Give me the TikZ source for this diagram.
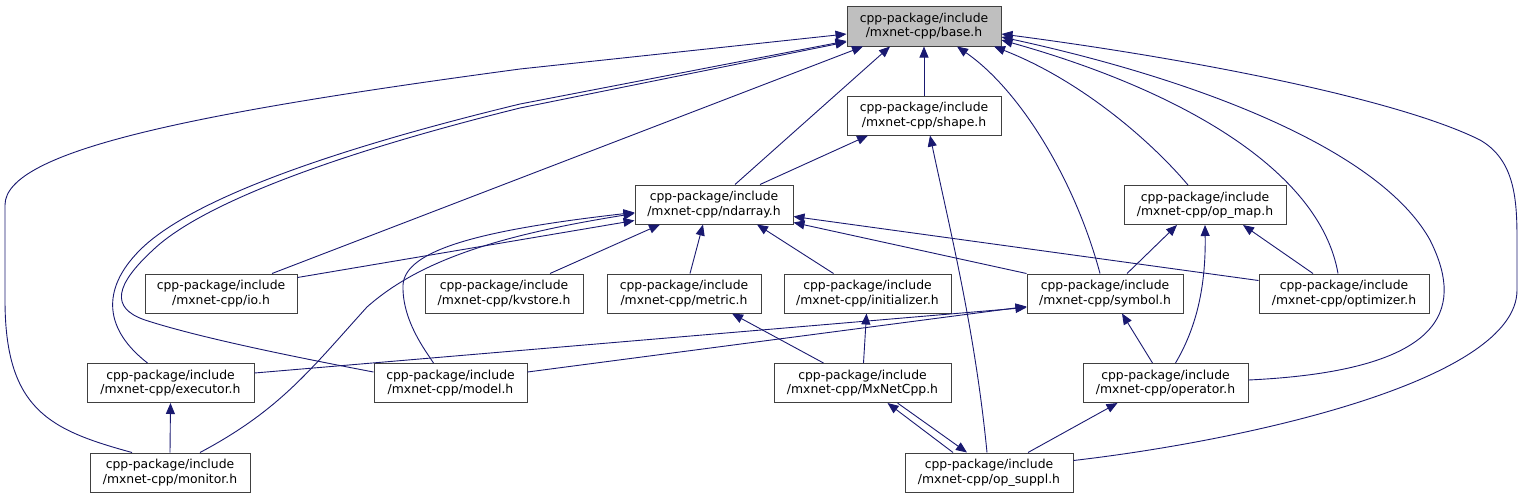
\documentclass[tikz,border=0pt]{standalone}
\usepackage{fontspec}
\setmainfont{DejaVu Sans}
\usetikzlibrary{arrows.meta}
\definecolor{edgeblue}{HTML}{191970}
\definecolor{basefill}{HTML}{BFBFBF}
\tikzset{
  filebox/.style={draw=black!75, line width=1pt, minimum height=39pt, inner sep=0pt,
    align=center, font=\fontsize{12.4}{14.5}\selectfont},
  dep/.style={draw=edgeblue, line width=0.9pt, -{Triangle[length=11pt,width=9pt]}},
}
\begin{document}
\begin{tikzpicture}[x=1pt,y=-1pt]
\useasboundingbox (0,0) rectangle (1523,499);
% nodes
\node[filebox, fill=basefill, minimum width=154pt, minimum height=40pt] (base) at (924,26) {cpp-package/include\\/mxnet-cpp/base.h};
\node[filebox, minimum width=154pt] (shape) at (924,115.5) {cpp-package/include\\/mxnet-cpp/shape.h};
\node[filebox, minimum width=158pt] (ndarray) at (714,204.5) {cpp-package/include\\/mxnet-cpp/ndarray.h};
\node[filebox, minimum width=162pt] (opmap) at (1205,205) {cpp-package/include\\/mxnet-cpp/op\_map.h};
\node[filebox, minimum width=152pt] (io) at (221,293.5) {cpp-package/include\\/mxnet-cpp/io.h};
\node[filebox, minimum width=158pt] (kvstore) at (504,293.5) {cpp-package/include\\/mxnet-cpp/kvstore.h};
\node[filebox, minimum width=154pt] (metric) at (684,293.5) {cpp-package/include\\/mxnet-cpp/metric.h};
\node[filebox, minimum width=167pt] (initializer) at (867.5,293.5) {cpp-package/include\\/mxnet-cpp/initializer.h};
\node[filebox, minimum width=156pt] (symbol) at (1105,293.5) {cpp-package/include\\/mxnet-cpp/symbol.h};
\node[filebox, minimum width=170pt] (optimizer) at (1344,293.5) {cpp-package/include\\/mxnet-cpp/optimizer.h};
\node[filebox, minimum width=167pt] (executor) at (170.5,383) {cpp-package/include\\/mxnet-cpp/executor.h};
\node[filebox, minimum width=153pt] (model) at (450.5,383) {cpp-package/include\\/mxnet-cpp/model.h};
\node[filebox, minimum width=177pt] (mxnetcpp) at (862.5,383) {cpp-package/include\\/mxnet-cpp/MxNetCpp.h};
\node[filebox, minimum width=165pt] (operator) at (1165.5,383) {cpp-package/include\\/mxnet-cpp/operator.h};
\node[filebox, minimum width=160pt] (monitor) at (170,472.5) {cpp-package/include\\/mxnet-cpp/monitor.h};
\node[filebox, minimum width=168pt] (opsuppl) at (989,472.5) {cpp-package/include\\/mxnet-cpp/op\_suppl.h};
% edges to base.h
\draw[dep] ([xshift=-38pt]monitor.north) .. controls (50,430) and (5,410) .. (5,300) -- (5,205)
  .. controls (5,150) and (200,112) .. (520,69) -- ([yshift=-8pt]base.west);
\draw[dep] ([xshift=-23pt]executor.north) .. controls (105,330) and (100,290) .. (140,250)
  .. controls (190,200) and (330,150) .. (520,104) -- ([yshift=-15pt]base.west);
\draw[dep] ([yshift=11pt]model.west) .. controls (300,358) and (200,338) .. (145,320)
  .. controls (110,308) and (115,285) .. (153,250)
  .. controls (200,205) and (330,155) .. (520,108) -- ([yshift=-16pt]base.west);
\draw[dep] ([xshift=51pt]io.north) -- ([xshift=-61pt]base.south);
\draw[dep] ([xshift=21pt]ndarray.north) -- ([xshift=-34pt]base.south);
\draw[dep] (shape.north) -- (base.south);
\draw[dep] ([xshift=-5pt]symbol.north) .. controls (1075,180) and (1020,90) .. ([xshift=33pt]base.south);
\draw[dep] ([xshift=-17pt]opmap.north) .. controls (1150,140) and (1080,80) .. ([xshift=70pt]base.south);
\draw[dep] ([xshift=-6pt]optimizer.north) .. controls (1320,170) and (1180,90) .. ([yshift=-14pt]base.east);
\draw[dep] ([yshift=3pt]operator.east) .. controls (1460,370) and (1460,300) .. (1430,240)
  .. controls (1380,150) and (1200,80) .. ([yshift=-11pt]base.east);
\draw[dep] ([yshift=12pt]opsuppl.east) .. controls (1250,440) and (1517,380) .. (1517,290) -- (1517,240)
  .. controls (1517,200) and (1515,160) .. (1480,140)
  .. controls (1400,100) and (1200,60) .. ([yshift=-8pt]base.east);
% edges to shape.h
\draw[dep] ([xshift=46pt]ndarray.north) -- ([xshift=-56pt]shape.south);
\draw[dep] ([xshift=-2pt]opsuppl.north) .. controls (975,330) and (950,230) .. ([xshift=6pt]shape.south);
% edges to ndarray.h
\draw[dep] ([yshift=16pt]io.east) -- ([yshift=-16pt]ndarray.west);
\draw[dep] ([xshift=30pt]monitor.north) .. controls (280,410) and (310,370) .. (367,307)
  .. controls (420,260) and (500,235) .. ([yshift=-9pt]ndarray.west);
\draw[dep] ([xshift=-17pt]model.north) .. controls (425,350) and (402,320) .. (403,285)
  .. controls (405,250) and (480,230) .. ([yshift=-8pt]ndarray.west);
\draw[dep] ([xshift=46pt]kvstore.north) -- ([xshift=-54pt]ndarray.south);
\draw[dep] ([xshift=6pt]metric.north) -- ([xshift=-11pt]ndarray.south);
\draw[dep] ([xshift=-34pt]initializer.north) -- ([xshift=43pt]ndarray.south);
\draw[dep] (symbol.north west) -- ([yshift=-18pt]ndarray.east);
\draw[dep] ([yshift=13pt]optimizer.west) -- ([yshift=-12pt]ndarray.east);
% edges to op_map.h
\draw[dep] ([xshift=22pt]symbol.north) -- ([xshift=-28pt]opmap.south);
\draw[dep] ([xshift=10pt]operator.north) .. controls (1195,330) and (1206,290) .. (opmap.south);
\draw[dep] ([xshift=-31pt]optimizer.north) -- ([xshift=38pt]opmap.south);
% edges to symbol.h
\draw[dep] ([xshift=-13pt]operator.north) -- ([xshift=17pt]symbol.south);
\draw[dep] ([yshift=10pt]executor.east) -- ([yshift=-14pt]symbol.west);
\draw[dep] ([yshift=11pt]model.east) -- ([yshift=-13pt]symbol.west);
% edges from MxNetCpp.h
\draw[dep] ([xshift=-39pt]mxnetcpp.north) -- ([xshift=48pt]metric.south);
\draw[dep] ([xshift=1pt]mxnetcpp.north) -- ([xshift=-1pt]initializer.south);
\draw[dep] ([xshift=-36pt]opsuppl.north) -- ([xshift=25pt]mxnetcpp.south);
\draw[dep] ([xshift=35pt]mxnetcpp.south) -- ([xshift=-22pt]opsuppl.north);
% others
\draw[dep] ([xshift=39pt]opsuppl.north) -- ([xshift=-48pt]operator.south);
\draw[dep] (monitor.north) -- (executor.south);
\end{tikzpicture}
\end{document}
